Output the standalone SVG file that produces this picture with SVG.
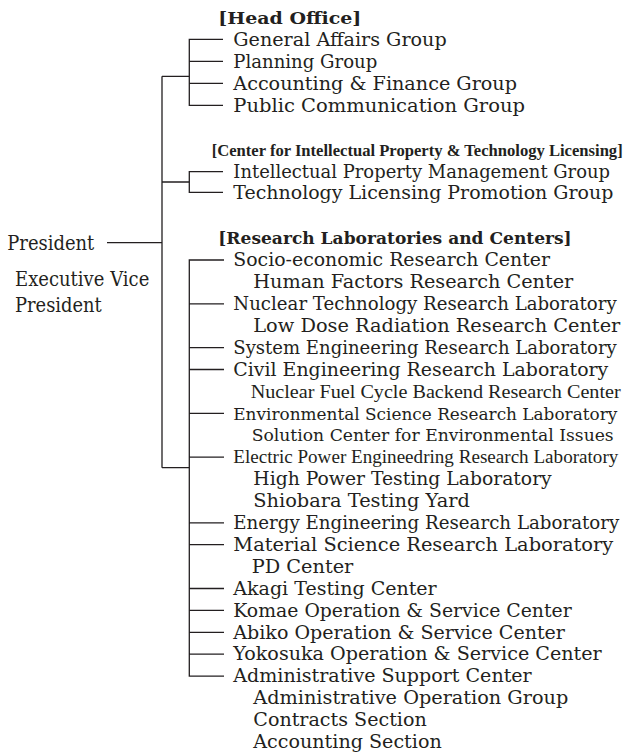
<svg xmlns="http://www.w3.org/2000/svg" width="627" height="754" viewBox="0 0 627 754">
<style>
.t{font-family:"DejaVu Serif","Liberation Serif",serif;font-size:18.5px;fill:#231f20}
.s{font-size:17.5px}
.xs{font-size:16.8px}
.l{font-family:"DejaVu Serif","Liberation Serif",serif;font-size:20px;fill:#231f20}
.h{font-family:"DejaVu Serif","Liberation Serif",serif;font-size:17.5px;font-weight:bold;fill:#231f20}
.hc{font-family:"Liberation Serif",serif;font-size:16.5px;font-weight:bold;fill:#231f20}
.n{font-family:"Liberation Serif",serif;font-size:19.5px;fill:#231f20}
.c{fill:none;stroke:#231f20;stroke-width:1.3}
</style>
<rect width="627" height="754" fill="#ffffff"/>
<g id="connectors">
<path class="c" d="M162,76.3V467.7M107,242.7H162M162,76.3H189.3M162,182H189.3M162,467.7H189.3"/>
<path class="c" d="M223,39.3H189.3V105.3H223M189.3,61.3H223M189.3,83.3H223"/>
<path class="c" d="M223,171.7H189.3V192.3H223"/>
<path class="c" d="M224,260H189.3V676.1H224M189.3,303.8H224M189.3,347.6H224M189.3,369.5H224M189.3,413.3H224M189.3,457.1H224M189.3,522.8H224M189.3,544.7H224M189.3,588.5H224M189.3,610.4H224M189.3,632.3H224M189.3,654.2H224"/>
</g>
<g id="president">
<text class="l" x="7.3" y="250" textLength="87" lengthAdjust="spacingAndGlyphs">President</text>
</g>
<g id="executive-vice-president">
<text class="l" x="15" y="286" textLength="134.3" lengthAdjust="spacingAndGlyphs">Executive Vice</text>
<text class="l" x="15" y="311.7" textLength="86.7" lengthAdjust="spacingAndGlyphs">President</text>
</g>
<g id="head-office">
<text class="h" x="218.3" y="23.5" textLength="143" lengthAdjust="spacingAndGlyphs">[Head Office]</text>
<text class="t" x="233.3" y="45.7" textLength="213.4" lengthAdjust="spacingAndGlyphs">General Affairs Group</text>
<text class="t" x="233.3" y="67.7" textLength="144" lengthAdjust="spacingAndGlyphs">Planning Group</text>
<text class="t" x="233.3" y="89.7" textLength="283.7" lengthAdjust="spacingAndGlyphs">Accounting &amp; Finance Group</text>
<text class="t" x="233.3" y="111.7" textLength="291.7" lengthAdjust="spacingAndGlyphs">Public Communication Group</text>
</g>
<g id="ip-center">
<text class="hc" x="211.7" y="155.5" textLength="411" lengthAdjust="spacingAndGlyphs">[Center for Intellectual Property &amp; Technology Licensing]</text>
<text class="t" x="233.3" y="177.7" textLength="376.7" lengthAdjust="spacingAndGlyphs">Intellectual Property Management Group</text>
<text class="t" x="233.3" y="199" textLength="380" lengthAdjust="spacingAndGlyphs">Technology Licensing Promotion Group</text>
</g>
<g id="research">
<text class="h" x="218.3" y="243.5" textLength="353.4" lengthAdjust="spacingAndGlyphs">[Research Laboratories and Centers]</text>
<text class="t" x="233.3" y="266.2" textLength="316.7" lengthAdjust="spacingAndGlyphs">Socio-economic Research Center</text>
<text class="t" x="253.3" y="288.1" textLength="320" lengthAdjust="spacingAndGlyphs">Human Factors Research Center</text>
<text class="t" x="233.3" y="310" textLength="383.4" lengthAdjust="spacingAndGlyphs">Nuclear Technology Research Laboratory</text>
<text class="t" x="253.3" y="331.9" textLength="367" lengthAdjust="spacingAndGlyphs">Low Dose Radiation Research Center</text>
<text class="t" x="233.3" y="353.8" textLength="383.4" lengthAdjust="spacingAndGlyphs">System Engineering Research Laboratory</text>
<text class="t" x="233.3" y="375.7" textLength="375" lengthAdjust="spacingAndGlyphs">Civil Engineering Research Laboratory</text>
<text class="n" x="250.7" y="397.6" textLength="370" lengthAdjust="spacingAndGlyphs">Nuclear Fuel Cycle Backend Research Center</text>
<text class="t xs" x="233.3" y="419.5" textLength="384" lengthAdjust="spacingAndGlyphs">Environmental Science Research Laboratory</text>
<text class="t s" x="251.7" y="441.4" textLength="362" lengthAdjust="spacingAndGlyphs">Solution Center for Environmental Issues</text>
<text class="n" x="233.3" y="463.3" textLength="385" lengthAdjust="spacingAndGlyphs">Electric Power Engineedring Research Laboratory</text>
<text class="t" x="253.3" y="485.2" textLength="298.4" lengthAdjust="spacingAndGlyphs">High Power Testing Laboratory</text>
<text class="t" x="253.3" y="507.1" textLength="216.7" lengthAdjust="spacingAndGlyphs">Shiobara Testing Yard</text>
<text class="t" x="233.3" y="529" textLength="386" lengthAdjust="spacingAndGlyphs">Energy Engineering Research Laboratory</text>
<text class="t" x="233.3" y="550.9" textLength="380" lengthAdjust="spacingAndGlyphs">Material Science Research Laboratory</text>
<text class="t" x="251.7" y="572.8" textLength="101.6" lengthAdjust="spacingAndGlyphs">PD Center</text>
<text class="t" x="233.3" y="594.7" textLength="203.4" lengthAdjust="spacingAndGlyphs">Akagi Testing Center</text>
<text class="t" x="233.3" y="616.6" textLength="338.4" lengthAdjust="spacingAndGlyphs">Komae Operation &amp; Service Center</text>
<text class="t" x="233.3" y="638.5" textLength="331.7" lengthAdjust="spacingAndGlyphs">Abiko Operation &amp; Service Center</text>
<text class="t" x="233.3" y="660.4" textLength="368.4" lengthAdjust="spacingAndGlyphs">Yokosuka Operation &amp; Service Center</text>
<text class="t" x="233.3" y="682.3" textLength="298.4" lengthAdjust="spacingAndGlyphs">Administrative Support Center</text>
<text class="t" x="253.3" y="704.2" textLength="315" lengthAdjust="spacingAndGlyphs">Administrative Operation Group</text>
<text class="t" x="253.3" y="726.1" textLength="173.4" lengthAdjust="spacingAndGlyphs">Contracts Section</text>
<text class="t" x="253.3" y="748" textLength="188.4" lengthAdjust="spacingAndGlyphs">Accounting Section</text>
</g>
</svg>
